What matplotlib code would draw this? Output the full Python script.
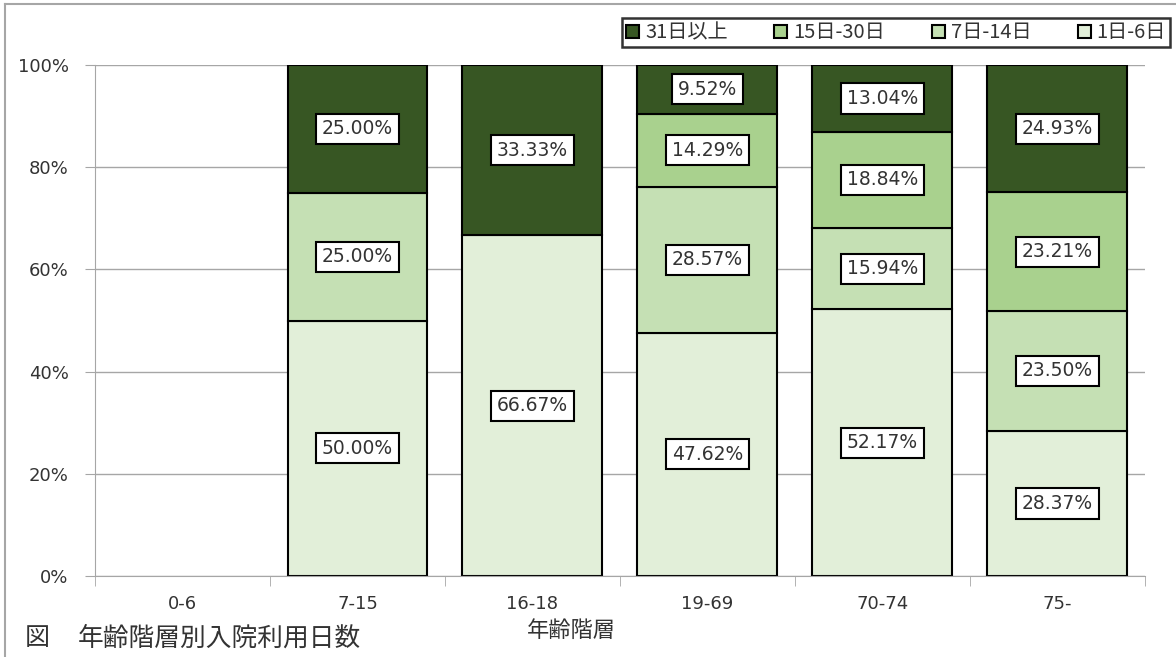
import matplotlib.pyplot as plt
import numpy as np
from matplotlib.lines import Line2D

plt.rcParams['font.family'] = ['Noto Sans CJK JP', 'DejaVu Sans']

# 年齢階層ごとの割合 (%)
ages = ['0-6', '7-15', '16-18', '19-69', '70-74', '75-']
d1_6 = [0, 50.00, 66.67, 47.62, 52.17, 28.37]
d7_14 = [0, 25.00, 0, 28.57, 15.94, 23.50]
d15_30 = [0, 0, 0, 14.29, 18.84, 23.21]
d31 = [0, 25.00, 33.33, 9.52, 13.04, 24.93]

series = [('1日-6日', d1_6, '#e2efd9'),
          ('7日-14日', d7_14, '#c5e0b4'),
          ('15日-30日', d15_30, '#a9d18e'),
          ('31日以上', d31, '#375623')]

fig = plt.figure(figsize=(11.76, 6.57), dpi=100)
ax = fig.add_axes([0.0808, 0.1233, 0.8928, 0.7777])

x = np.arange(len(ages))
bottom = np.zeros(len(ages))
handles = []
for name, vals, col in series:
    vals = np.array(vals, dtype=float)
    keep = vals > 0
    bars = ax.bar(x[keep], vals[keep], 0.8, bottom=bottom[keep], color=col,
                  edgecolor='black', linewidth=1.5, zorder=2)
    for xi, v, b in zip(x[keep], vals[keep], bottom[keep]):
        ax.text(xi, b + v / 2, f'{v:.2f}%', ha='center', va='center',
                fontsize=13.5, color='#333333', family=['DejaVu Sans'],
                bbox=dict(boxstyle='square,pad=0.3', fc='white',
                          ec='black', lw=1.5), zorder=3)
    handles.append(bars)
    bottom += vals

ax.set_xlim(-0.5, len(ages) - 0.5)
ax.set_ylim(0, 100)
ax.set_yticks(np.arange(0, 101, 20))
ax.set_yticklabels([f'{v}%' for v in range(0, 101, 20)], family=['DejaVu Sans'])
ax.set_xticks(x)
ax.set_xticklabels(ages, family=['DejaVu Sans'])
ax.set_xticks(np.arange(-0.5, len(ages)), minor=True)
ax.tick_params(axis='x', which='major', length=0, pad=14, labelsize=13, colors='#333333')
ax.tick_params(axis='x', which='minor', length=7, color='#a6a6a6')
ax.tick_params(axis='y', length=7, color='#a6a6a6', labelsize=13, colors='#333333', pad=12)
ax.yaxis.grid(True, color='#a6a6a6', lw=1, zorder=0)
for s in ['top', 'right']:
    ax.spines[s].set_visible(False)
ax.spines['left'].set_color('#a6a6a6')
ax.spines['bottom'].set_color('#a6a6a6')

ax.set_xlabel('年齢階層', fontsize=16, color='#333333', labelpad=0)
ax.xaxis.set_label_coords(0.454, -0.085)

leg = fig.legend(handles[::-1], [s[0] for s in series[::-1]], loc='upper right',
                 bbox_to_anchor=(0.995, 0.972), ncol=4, fontsize=14.5, frameon=True,
                 fancybox=False, edgecolor='black', handlelength=0.65, handleheight=0.65,
                 handletextpad=0.3, columnspacing=2.3, borderpad=0.2, borderaxespad=0)
leg.get_frame().set_linewidth(1.8)
for t in leg.get_texts():
    t.set_color('#333333')

fig.text(0.021, 0.018, '図', fontsize=18, color='#333333')
fig.text(0.066, 0.018, '年齢階層別入院利用日数', fontsize=18.5, color='#333333')

# figure frame (top and left)
fig.add_artist(Line2D([0.0045, 0.0045], [0, 0.994], color='#a6a6a6', lw=1.5))
fig.add_artist(Line2D([0.0045, 0.999], [0.994, 0.994], color='#a6a6a6', lw=1.5))

fig.savefig('out.png', dpi=100)
